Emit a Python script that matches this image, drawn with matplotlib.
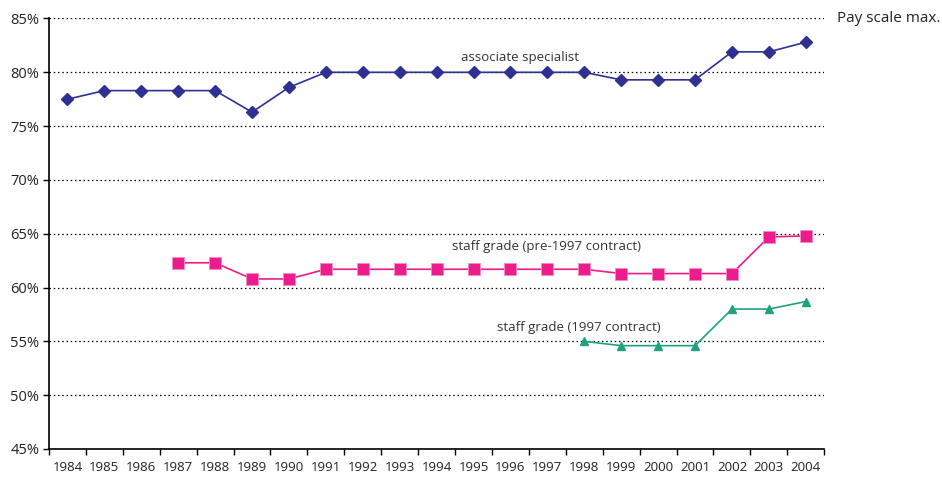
import matplotlib.pyplot as plt
import numpy as np
from matplotlib.ticker import FixedLocator, PercentFormatter

years = list(range(1984, 2005))

# pay scale max, % (None where the grade did not exist)
associate_specialist = [77.5, 78.3, 78.3, 78.3, 78.3, 76.3, 78.6, 80.0, 80.0, 80.0, 80.0,
                        80.0, 80.0, 80.0, 80.0, 79.3, 79.3, 79.3, 81.9, 81.9, 82.8]
staff_pre1997 = [None, None, None, 62.3, 62.3, 60.8, 60.8, 61.7, 61.7, 61.7, 61.7,
                 61.7, 61.7, 61.7, 61.7, 61.3, 61.3, 61.3, 61.3, 64.7, 64.8]
staff_1997 = [None] * 14 + [55.0, 54.6, 54.6, 54.6, 58.0, 58.0, 58.7]


def to_arr(vals):
    return np.array([np.nan if v is None else v for v in vals], dtype=float)


plt.rcParams['font.family'] = ['Open Sans', 'DejaVu Sans']

fig = plt.figure(figsize=(9.42, 4.78), dpi=100)
ax = fig.add_axes([0.052, 0.0607, 0.823, 0.9006])

x = np.arange(len(years))
ax.plot(x, to_arr(associate_specialist), color='#2E3192', lw=1.2, marker='D', ms=6.5)
ax.plot(x, to_arr(staff_pre1997), color='#EC1C8C', lw=1.2, marker='s', ms=8.5,
        markeredgecolor='#F48CC0', markeredgewidth=0.6)
ax.plot(x, to_arr(staff_1997), color='#1FA37E', lw=1.2, marker='^', ms=6)

ax.set_xlim(-0.5, len(years) - 0.5)
ax.set_ylim(45, 85)
ax.set_yticks(np.arange(45, 86, 5))
ax.yaxis.set_major_formatter(PercentFormatter(decimals=0))
ax.set_xticks(x)
ax.set_xticklabels(years)
ax.xaxis.set_minor_locator(FixedLocator(np.arange(-0.5, len(years), 1)))
ax.tick_params(axis='x', which='major', length=0, pad=9, labelsize=9.5, colors='#222222')
ax.tick_params(axis='x', which='minor', length=4, width=1, direction='out')
ax.tick_params(axis='y', length=4, width=1, direction='out', labelsize=10.5, pad=3,
               labelcolor='#222222')

ax.grid(axis='y', color='black', linestyle=(0, (1.2, 2.2)), lw=0.9)
ax.set_axisbelow(True)
for s in ['top', 'right']:
    ax.spines[s].set_visible(False)
ax.spines['left'].set_linewidth(1.2)
ax.spines['bottom'].set_linewidth(1.2)

ax.text(12.26, 81.4, 'associate specialist', ha='center', va='center', fontsize=9.5,
        color='#333333')
ax.text(12.97, 63.8, 'staff grade (pre-1997 contract)', ha='center', va='center',
        fontsize=9.5, color='#333333')
ax.text(13.84, 56.3, 'staff grade (1997 contract)', ha='center', va='center', fontsize=9.5,
        color='#333333')
fig.text(0.889, 0.9613, 'Pay scale max.', ha='left', va='center', fontsize=11,
         color='#222222')

fig.savefig('out.png', dpi=100)
